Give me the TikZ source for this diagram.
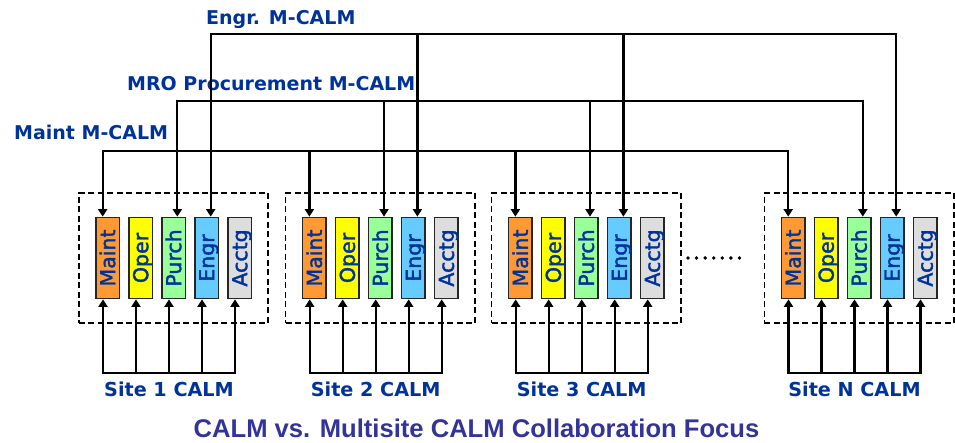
\documentclass[tikz,border=0pt]{standalone}
\usepackage{fontspec}
\usepackage{graphicx}
\usetikzlibrary{arrows.meta}
\newfontfamily\dvfont{DejaVu Sans}
\newfontfamily\dvsemi{DejaVu Sans}[FakeBold=1.8]
\newfontfamily\titlefont{Liberation Sans}
\definecolor{calmblue}{RGB}{0,51,153}
\definecolor{titleblue}{RGB}{51,51,153}
\definecolor{cMaint}{RGB}{255,153,51}
\definecolor{cOper}{RGB}{255,255,0}
\definecolor{cPurch}{RGB}{153,255,153}
\definecolor{cEngr}{RGB}{102,204,255}
\definecolor{cAcctg}{RGB}{221,221,221}
\newcommand{\vlab}[1]{\rotatebox{90}{\raisebox{0pt}[\fontcharht\font`M][0pt]{#1}}}
\tikzset{
  unitbox/.style={draw=black!85, line width=1.6pt, minimum width=23.7pt, minimum height=81.1pt,
    inner sep=0pt, text=calmblue, font=\dvsemi\fontsize{20.5}{20.5}\selectfont},
  grpbox/.style={draw=black, line width=1.6pt, dash pattern=on 6pt off 3.5pt,
    minimum width=189.4pt, minimum height=130.4pt, inner sep=0pt},
  conn/.style={draw=black, line width=2.2pt},
  uni/.style={conn, -{Triangle[width=9pt,length=7.5pt]}},
  bi/.style={conn, {Triangle[width=9pt,length=7.5pt]}-{Triangle[width=9pt,length=7.5pt]}},
  mlab/.style={anchor=base west, inner sep=0pt, text=calmblue, font=\dvfont\bfseries\fontsize{19}{19}\selectfont},
  sitelab/.style={anchor=base, inner sep=0pt, text=calmblue, font=\dvfont\bfseries\fontsize{19.2}{19.2}\selectfont},
  titlelab/.style={anchor=base, inner sep=0pt, text=titleblue, font=\titlefont\bfseries\fontsize{25.6}{25.6}\selectfont},
}
\begin{document}
\begin{tikzpicture}[x=1pt,y=-1pt]
\useasboundingbox[fill=white] (0,0) rectangle (955,443);

% labels
\node[mlab] (lE) at (206,25) {Engr. M-CALM};
\node[mlab] (lP) at (127,90.7) {MRO Procurement M-CALM};
\node[mlab] (lM) at (14,140) {Maint M-CALM};
\node[titlelab] (title) at (476.5,437.5) {CALM vs. Multisite CALM Collaboration Focus};

\coordinate (yE) at (0,34.3);
\coordinate (yP) at (0,100.7);
\coordinate (yM) at (0,150.7);

\foreach \g/\o/\s in {1/0/1,2/206.7/2,3/412.7/3,4/685.5/N}{
  \node[grpbox] (d\g) at (173.5+\o,258) {};
  \node[unitbox,fill=cMaint] (m\g) at (107.7+\o,258) {\vlab{Maint}};
  \node[unitbox,fill=cOper]  (o\g) at (140.7+\o,258) {\vlab{Oper}};
  \node[unitbox,fill=cPurch] (p\g) at (173.7+\o,258) {\vlab{Purch}};
  \node[unitbox,fill=cEngr]  (e\g) at (206.7+\o,258) {\vlab{Engr}};
  \node[unitbox,fill=cAcctg] (a\g) at (239.7+\o,258) {\vlab{Acctg}};
  \coordinate (bus\g) at (0,373);
  \foreach \b in {m,o,p,e,a}{
    \coordinate (\b b\g) at ([xshift=-4.7pt]\b\g.south);
  }
  \coordinate (mt\g) at ([xshift=-5pt]m\g.north);
  \coordinate (pt\g) at ([xshift=3.6pt]p\g.north);
  \coordinate (et\g) at ([xshift=4pt]e\g.north);
  \draw[bi] (mb\g) -- (mb\g |- bus\g) -- (ab\g |- bus\g) -- (ab\g);
  \foreach \b in {o,p,e}{
    \draw[uni] (\b b\g |- bus\g) -- (\b b\g);
  }
  \node[sitelab] (s\g) at (169+\o,396.7) {Site \s\ CALM};
}

% multisite buses
\draw[bi] (et1) -- (et1 |- yE) -- (et4 |- yE) -- (et4);
\draw[uni] (et2 |- yE) -- (et2);
\draw[uni] (et3 |- yE) -- (et3);
\draw[bi] (pt1) -- (pt1 |- yP) -- (pt4 |- yP) -- (pt4);
\draw[uni] (pt2 |- yP) -- (pt2);
\draw[uni] (pt3 |- yP) -- (pt3);
\draw[bi] (mt1) -- (mt1 |- yM) -- (mt4 |- yM) -- (mt4);
\draw[uni] (mt2 |- yM) -- (mt2);
\draw[uni] (mt3 |- yM) -- (mt3);

% ellipsis dots
\draw[line width=3.8pt, line cap=round, dash pattern=on 0pt off 8.57pt]
  ([xshift=6.3pt]d3.east) -- ([xshift=-15.9pt]d4.west);
\end{tikzpicture}
\end{document}
